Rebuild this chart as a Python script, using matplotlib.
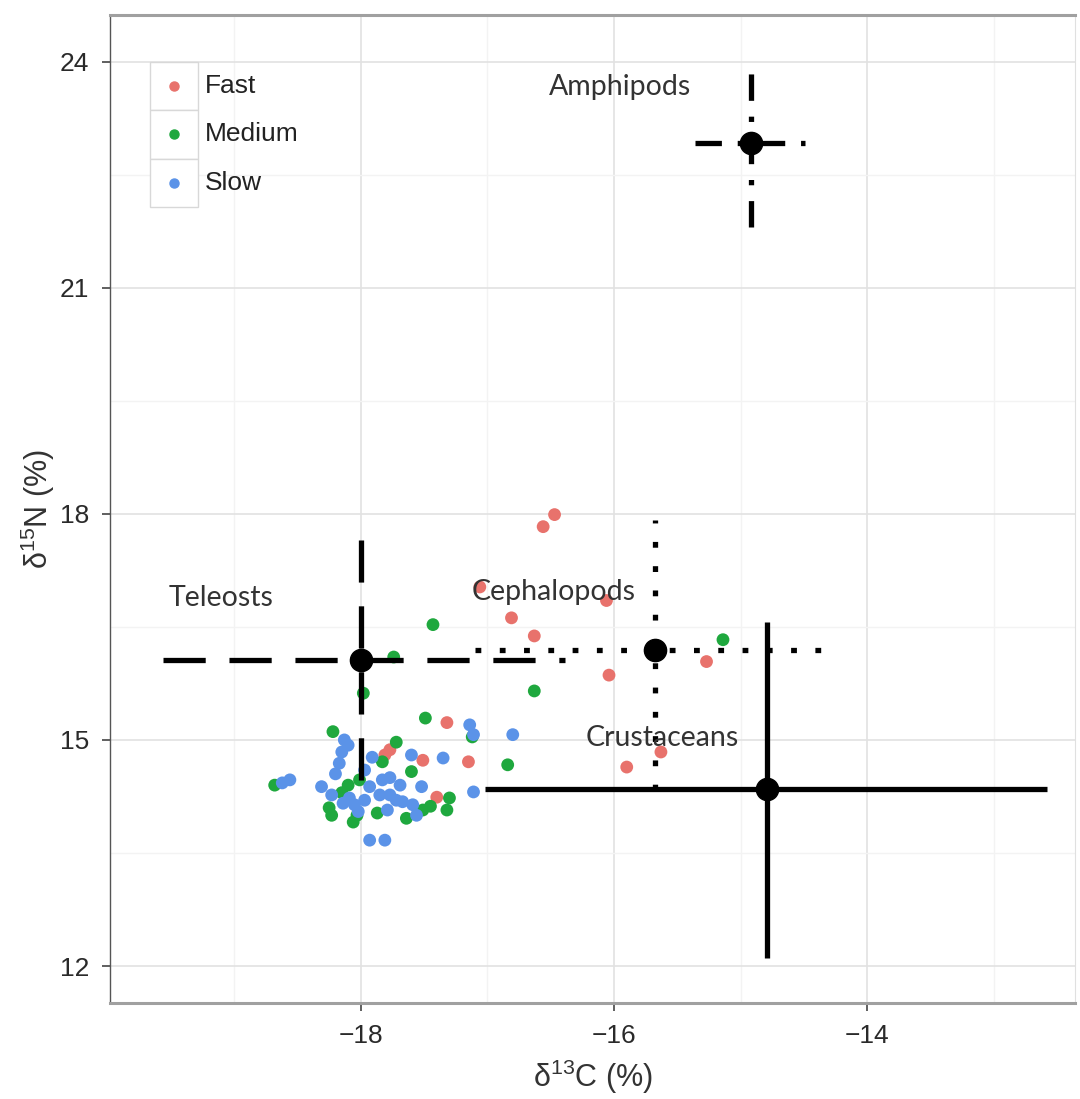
import matplotlib
matplotlib.use("Agg")
import matplotlib.pyplot as plt
from matplotlib.patches import Rectangle

plt.rcParams['font.family'] = ['Liberation Sans', 'DejaVu Sans']
plt.rcParams['mathtext.fontset'] = 'custom'
plt.rcParams['mathtext.rm'] = 'Liberation Sans'
plt.rcParams['mathtext.it'] = 'Liberation Sans'

# prey sources (mean +/- sd)
groups = ['Amphipods', 'Teleosts', 'Cephalopods', 'Crustaceans']
src_c = [-14.92, -18.00, -15.68, -14.79]
src_n = [22.92, 16.06, 16.19, 14.35]
src_c_lo = [-15.36, -19.56, -17.10, -17.02]
src_c_hi = [-14.49, -16.39, -14.25, -12.58]
src_n_lo = [21.80, 14.47, 14.34, 12.11]
src_n_hi = [24.03, 17.65, 17.92, 16.57]
label_c = [-15.95, -19.10, -16.48, -15.62]
label_n = [23.66, 16.88, 16.96, 15.03]

# consumers by growth class
fast_c = [-16.47, -16.56, -17.06, -16.06, -16.81, -16.63, -16.04, -15.27,
          -15.90, -15.63, -17.32, -17.15, -17.51, -17.77, -17.81, -17.40]
fast_n = [17.99, 17.83, 17.03, 16.85, 16.62, 16.38, 15.86, 16.04,
          14.64, 14.84, 15.23, 14.71, 14.73, 14.87, 14.80, 14.24]

medium_c = [-15.14, -17.43, -17.74, -17.98, -16.63, -17.49, -16.84, -17.12,
            -17.72, -18.22, -17.83, -17.60, -18.68, -18.10, -18.01, -17.30,
            -17.32, -18.23, -18.03, -17.87, -17.64, -17.51, -18.25, -18.06,
            -18.15, -17.45]
medium_n = [16.33, 16.53, 16.10, 15.62, 15.65, 15.29, 14.67, 15.04,
            14.97, 15.11, 14.71, 14.58, 14.40, 14.40, 14.47, 14.23,
            14.07, 14.00, 14.00, 14.03, 13.96, 14.07, 14.10, 13.91,
            14.30, 14.12]

slow_c = [-17.14, -17.11, -16.80, -18.13, -18.15, -18.17, -17.91, -17.60,
          -17.35, -18.56, -18.62, -18.31, -18.23, -17.93, -17.83, -17.77,
          -17.52, -17.11, -18.09, -18.05, -17.77, -17.72, -17.67, -17.79,
          -17.56, -17.93, -17.81, -18.14, -18.10, -17.97, -17.85, -17.69,
          -17.59, -18.20, -17.97, -18.02]
slow_n = [15.20, 15.07, 15.07, 15.00, 14.84, 14.69, 14.77, 14.80,
          14.76, 14.47, 14.43, 14.38, 14.27, 14.38, 14.47, 14.50,
          14.38, 14.31, 14.23, 14.14, 14.27, 14.20, 14.18, 14.07,
          14.00, 13.67, 13.67, 14.16, 14.93, 14.60, 14.27, 14.40,
          14.14, 14.55, 14.20, 14.05]

classes = ['Fast', 'Medium', 'Slow']
colors = ['#E8726C', '#1FA83E', '#5B93E8']

fig = plt.figure(figsize=(10.8, 10.99), dpi=100)
ax = fig.add_axes([0.1019, 0.0874, 0.8935, 0.899])

for c, n, col in zip([fast_c, medium_c, slow_c], [fast_n, medium_n, slow_n], colors):
    ax.scatter(c, n, s=85, color=col, edgecolors='none', zorder=3)

styles = [(0, (5, 3, 1, 3)), (0, (8, 4.5)), (0, (1.1, 3.5)), '-']
for i in range(len(groups)):
    ax.hlines(src_n[i], src_c_lo[i], src_c_hi[i], colors='black', lw=3.8,
              linestyles=[styles[i]], zorder=4)
    ax.vlines(src_c[i], src_n_lo[i], src_n_hi[i], colors='black', lw=3.8,
              linestyles=[styles[i]], zorder=4)
    ax.plot(src_c[i], src_n[i], 'o', color='black', ms=16, zorder=5)
    ax.text(label_c[i], label_n[i], groups[i], fontsize=20.5, family='Lato',
            color='#333333', ha='center', va='center', zorder=6)

ax.set_xlim(-19.98, -12.36)
ax.set_ylim(11.51, 24.62)
ax.set_xticks([-18, -16, -14])
ax.set_xticklabels(['\u221218', '\u221216', '\u221214'])
ax.set_yticks([12, 15, 18, 21, 24])
ax.set_xticks([-19, -17, -15, -13], minor=True)
ax.set_yticks([13.5, 16.5, 19.5, 22.5], minor=True)
ax.grid(which='major', color='#e2e2e2', lw=1.2, zorder=0)
ax.grid(which='minor', color='#f3f3f3', lw=1.0, zorder=0)
ax.set_axisbelow(True)
ax.tick_params(which='major', labelsize=19, length=6, width=1.2, pad=9,
               color='#444444', labelcolor='#2a2a2a')
ax.tick_params(which='minor', length=0)

ax.spines['left'].set_color('#555555')
ax.spines['left'].set_linewidth(1.0)
for s in ['top', 'bottom']:
    ax.spines[s].set_color('#a0a0a0')
    ax.spines[s].set_linewidth(2.2)
ax.spines['right'].set_color('#e0e0e0')

ax.set_xlabel(r'$\mathregular{\delta^{13}}$C (%)', fontsize=22, color='#333333', labelpad=7)
ax.set_ylabel(r'$\mathregular{\delta^{15}}$N (%)', fontsize=22, color='#333333', labelpad=2)

# legend drawn as ggplot style keys
key_y = [0.928, 0.879, 0.830]
for k in range(3):
    ax.add_patch(Rectangle((0.0415, key_y[k] - 0.0245), 0.0497, 0.049, transform=ax.transAxes,
                           facecolor='white', edgecolor='#d8d8d8', lw=1, zorder=6))
    ax.plot(0.0663, key_y[k], 'o', ms=6.5, color=colors[k], transform=ax.transAxes, zorder=7)
    ax.text(0.0984, key_y[k], classes[k], fontsize=19, color='#222222',
            va='center', ha='left', transform=ax.transAxes, zorder=7)

fig.savefig('out.png', dpi=100)
